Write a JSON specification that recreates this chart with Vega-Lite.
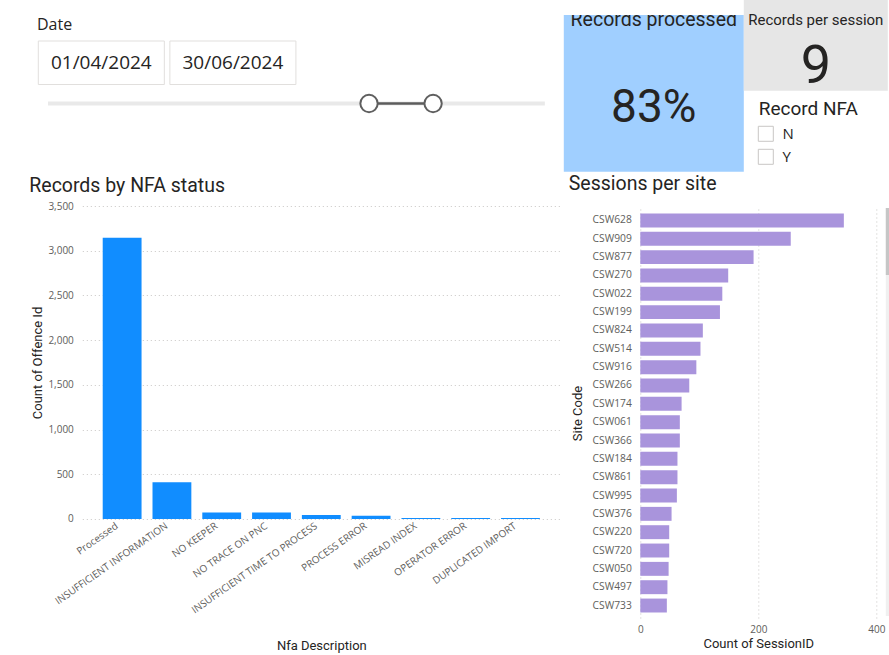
{
  "$schema": "https://vega.github.io/schema/vega-lite/v6.json",
  "background": "#ffffff",
  "padding": {"left": 29.3, "top": 0, "right": 0, "bottom": 4},
  "config": {
    "view": {"stroke": null},
    "font": "Open Sans",
    "axis": {"domain": false, "ticks": false, "labelFont": "Open Sans", "labelFontSize": 10, "labelColor": "#605E5C", "labelFlush": false, "titleFont": "Roboto", "titleFontSize": 13, "titleFontWeight": "normal", "titleColor": "#252423", "gridColor": "#C8C6C4", "gridDash": [1, 3], "gridWidth": 1}
  },
  "datasets": {
    "nfa": [
      {"description": "Processed", "count": 3146},
      {"description": "INSUFFICIENT INFORMATION", "count": 410},
      {"description": "NO KEEPER", "count": 73},
      {"description": "NO TRACE ON PNC", "count": 72},
      {"description": "INSUFFICIENT TIME TO PROCESS", "count": 46},
      {"description": "PROCESS ERROR", "count": 35},
      {"description": "MISREAD INDEX", "count": 11},
      {"description": "OPERATOR ERROR", "count": 10},
      {"description": "DUPLICATED IMPORT", "count": 10}
    ],
    "sessions": [
      {"site": "CSW628", "sessions": 345},
      {"site": "CSW909", "sessions": 255},
      {"site": "CSW877", "sessions": 192},
      {"site": "CSW270", "sessions": 149},
      {"site": "CSW022", "sessions": 139},
      {"site": "CSW199", "sessions": 135},
      {"site": "CSW824", "sessions": 106},
      {"site": "CSW514", "sessions": 102},
      {"site": "CSW916", "sessions": 95},
      {"site": "CSW266", "sessions": 83},
      {"site": "CSW174", "sessions": 70},
      {"site": "CSW061", "sessions": 67},
      {"site": "CSW366", "sessions": 67},
      {"site": "CSW184", "sessions": 63},
      {"site": "CSW861", "sessions": 63},
      {"site": "CSW995", "sessions": 62},
      {"site": "CSW376", "sessions": 53},
      {"site": "CSW220", "sessions": 49},
      {"site": "CSW720", "sessions": 49},
      {"site": "CSW050", "sessions": 48},
      {"site": "CSW497", "sessions": 46},
      {"site": "CSW733", "sessions": 45}
    ],
    "scroll": [
      {"part": "track", "from": 0, "to": 134},
      {"part": "thumb", "from": 0, "to": 22}
    ],
    "dateRange": [
      {"bound": "start", "label": "01/04/2024"},
      {"bound": "end", "label": "30/06/2024"}
    ],
    "sliderTrack": [{"from": "2023-01-06T00:00:00", "to": "2024-12-04T00:00:00"}],
    "sliderSel": [{"from": "2024-04-01T00:00:00", "to": "2024-06-30T00:00:00"}],
    "sliderHandles": [{"date": "2024-04-01T00:00:00"}, {"date": "2024-06-30T00:00:00"}],
    "kpiProcessed": [{"measure": "Records processed", "value": 0.83}],
    "kpiPerSession": [{"measure": "Records per session", "value": 9}],
    "nfaOptions": [{"option": "N"}, {"option": "Y"}],
    "labels": [
      {"key": "date", "text": "Date"},
      {"key": "nfaChart", "text": "Records by NFA status"},
      {"key": "sessionsChart", "text": "Sessions per site"},
      {"key": "slicer", "text": "Record NFA"}
    ]
  },
  "spacing": 3.5,
  "hconcat": [
    {
      "spacing": 0,
      "vconcat": [
        {
          "width": 15.4,
          "height": 40,
          "data": {"name": "labels"},
          "transform": [{"filter": "datum.key === 'date'"}],
          "mark": {"type": "text", "align": "left", "baseline": "alphabetic", "dy": 10, "font": "Open Sans", "fontSize": 16, "fill": "#252423"},
          "encoding": {"text": {"field": "text"}}
        },
        {
          "spacing": 0,
          "hconcat": [
            {"width": 7.7, "height": 1, "data": {"values": []}, "mark": "point"},
            {
              "width": 257.6,
              "height": 43.5,
              "data": {"name": "dateRange"},
              "encoding": {"x": {"field": "bound", "type": "nominal", "sort": null, "scale": {"paddingInner": 0.042, "paddingOuter": 0}, "axis": null}},
              "layer": [
                {"mark": {"type": "rect", "fill": "#ffffff", "stroke": "#E1DFDD", "strokeWidth": 1}},
                {"mark": {"type": "text", "font": "Open Sans", "fontSize": 19, "fill": "#252423", "baseline": "middle"}, "encoding": {"text": {"field": "label"}}}
              ]
            }
          ]
        },
        {
          "spacing": 0,
          "hconcat": [
            {"width": 7.7, "height": 1, "data": {"values": []}, "mark": "point"},
            {
              "width": 522.5,
              "height": 37,
              "layer": [
                {
                  "data": {"name": "sliderTrack"},
                  "mark": {"type": "rule", "color": "#E9E9E9", "strokeWidth": 4},
                  "encoding": {
                    "x": {"field": "from", "type": "temporal", "scale": {"domain": [{"year": 2022, "month": 12, "date": 22}, {"year": 2024, "month": 12, "date": 25}], "nice": false}, "axis": null},
                    "x2": {"field": "to"}
                  }
                },
                {
                  "data": {"name": "sliderSel"},
                  "mark": {"type": "rule", "color": "#5C5C5C", "strokeWidth": 2.5},
                  "encoding": {
                    "x": {"field": "from", "type": "temporal", "scale": {"domain": [{"year": 2022, "month": 12, "date": 22}, {"year": 2024, "month": 12, "date": 25}], "nice": false}, "axis": null},
                    "x2": {"field": "to"}
                  }
                },
                {
                  "data": {"name": "sliderHandles"},
                  "mark": {"type": "point", "shape": "circle", "size": 300, "filled": true, "fill": "#ffffff", "stroke": "#5F5F5F", "strokeWidth": 2, "opacity": 1},
                  "encoding": {
                    "x": {"field": "date", "type": "temporal", "scale": {"domain": [{"year": 2022, "month": 12, "date": 22}, {"year": 2024, "month": 12, "date": 25}], "nice": false}, "axis": null}
                  }
                }
              ]
            }
          ]
        },
        {
          "width": 2,
          "height": 78.5,
          "data": {"name": "labels"},
          "transform": [{"filter": "datum.key === 'nfaChart'"}],
          "mark": {"type": "text", "align": "left", "baseline": "alphabetic", "dx": -1, "dy": 30.25, "font": "Roboto", "fontSize": 19.5, "fill": "#252423"},
          "encoding": {"text": {"field": "text"}}
        },
        {
          "spacing": 0,
          "hconcat": [
            {"width": 1, "height": 1, "data": {"values": []}, "mark": "point"},
            {
              "width": 478,
              "height": 313,
              "data": {"name": "nfa"},
              "mark": {"type": "bar", "color": "#118DFF"},
              "encoding": {
                "x": {"field": "description", "type": "nominal", "sort": null, "scale": {"paddingInner": 0.22, "paddingOuter": 0.41}, "axis": {"title": "Nfa Description", "labelAngle": -35, "labelPadding": 1.5, "labelOffset": -8, "titlePadding": 24}},
                "y": {"field": "count", "type": "quantitative", "scale": {"domain": [0, 3500], "nice": false}, "axis": {"title": "Count of Offence Id", "values": [0, 500, 1000, 1500, 2000, 2500, 3000, 3500], "format": ",d", "grid": true, "labelPadding": 9, "titlePadding": 3.7}}
              }
            }
          ]
        }
      ]
    },
    {
      "spacing": 0,
      "vconcat": [
        {
          "spacing": 0,
          "hconcat": [
            {
              "spacing": 0,
              "vconcat": [
                {"width": 1, "height": 15, "data": {"values": []}, "mark": "point"},
                {
                  "width": 180,
                  "height": 156.7,
                  "view": {"fill": "#A0CFFF", "stroke": null},
                  "data": {"name": "kpiProcessed"},
                  "layer": [
                    {"mark": {"type": "text", "font": "Roboto", "fontSize": 19.5, "fill": "#252423", "baseline": "alphabetic", "dy": -67, "clip": true}, "encoding": {"text": {"field": "measure"}}},
                    {"mark": {"type": "text", "font": "Roboto", "fontSize": 46, "fill": "#252423", "baseline": "alphabetic", "dy": 28.35, "clip": true}, "encoding": {"text": {"field": "value", "type": "quantitative", "format": ".0%"}}}
                  ]
                }
              ]
            },
            {
              "spacing": 0,
              "vconcat": [
                {
                  "width": 144,
                  "height": 90.7,
                  "view": {"fill": "#E6E6E6", "stroke": null},
                  "data": {"name": "kpiPerSession"},
                  "layer": [
                    {"mark": {"type": "text", "font": "Roboto", "fontSize": 15, "fill": "#252423", "baseline": "alphabetic", "dy": -20.85, "clip": true}, "encoding": {"text": {"field": "measure"}}},
                    {"mark": {"type": "text", "font": "Roboto", "fontSize": 54, "fill": "#252423", "baseline": "alphabetic", "dy": 37.95, "clip": true}, "encoding": {"text": {"field": "value", "type": "quantitative", "format": "d"}}}
                  ]
                },
                {
                  "spacing": 0,
                  "hconcat": [
                    {"width": 12, "height": 1, "data": {"values": []}, "mark": "point"},
                    {
                      "width": 16,
                      "height": 77.3,
                      "layer": [
                        {
                          "data": {"name": "nfaOptions"},
                          "mark": {"type": "point", "shape": "square", "size": 225, "filled": true, "fill": "#ffffff", "stroke": "#C8C6C4", "strokeWidth": 1, "opacity": 1},
                          "encoding": {"y": {"field": "option", "type": "nominal", "sort": null, "scale": {"type": "band", "paddingInner": 0, "paddingOuter": 0.68, "align": 1}, "axis": null}}
                        },
                        {
                          "data": {"name": "nfaOptions"},
                          "mark": {"type": "text", "align": "left", "dx": 16.7, "font": "Open Sans", "fontSize": 15, "fill": "#252423", "baseline": "middle"},
                          "encoding": {"y": {"field": "option", "type": "nominal", "sort": null, "scale": {"type": "band", "paddingInner": 0, "paddingOuter": 0.68, "align": 1}, "axis": null}, "text": {"field": "option"}}
                        },
                        {
                          "data": {"name": "labels"},
                          "transform": [{"filter": "datum.key === 'slicer'"}],
                          "mark": {"type": "text", "align": "left", "dx": -7, "dy": -14.35, "font": "Roboto", "fontSize": 19, "fill": "#252423", "baseline": "alphabetic"},
                          "encoding": {"text": {"field": "text"}}
                        }
                      ]
                    }
                  ]
                }
              ]
            }
          ]
        },
        {
          "width": 10,
          "height": 35.3,
          "data": {"name": "labels"},
          "transform": [{"filter": "datum.key === 'sessionsChart'"}],
          "mark": {"type": "text", "align": "left", "baseline": "alphabetic", "font": "Roboto", "fontSize": 19.5, "fill": "#252423"},
          "encoding": {"text": {"field": "text"}}
        },
        {
          "spacing": 0.5,
          "hconcat": [
            {"width": 6.2, "height": 1, "data": {"values": []}, "mark": "point"},
            {
              "width": 236,
              "height": 410,
              "data": {"name": "sessions"},
              "mark": {"type": "bar", "color": "#A994DC"},
              "encoding": {
                "y": {"field": "site", "type": "nominal", "sort": null, "scale": {"paddingInner": 0.24, "paddingOuter": 0.3}, "axis": {"title": "Site Code", "labelFontSize": 10.3, "labelPadding": 9, "titlePadding": 7}},
                "x": {"field": "sessions", "type": "quantitative", "scale": {"domain": [0, 400], "nice": false}, "axis": {"title": "Count of SessionID", "values": [0, 200, 400], "grid": true, "labelPadding": 7, "titlePadding": 3}}
              }
            },
            {
              "width": 4,
              "height": 408,
              "data": {"name": "scroll"},
              "mark": {"type": "rect"},
              "encoding": {
                "y": {"field": "from", "type": "quantitative", "scale": {"domain": [0, 134], "reverse": true, "nice": false, "zero": false}, "axis": null},
                "y2": {"field": "to"},
                "color": {"field": "part", "type": "nominal", "sort": null, "scale": {"domain": ["track", "thumb"], "range": ["#F0F0F0", "#C6C6C6"]}, "legend": null}
              }
            }
          ]
        }
      ]
    }
  ]
}
